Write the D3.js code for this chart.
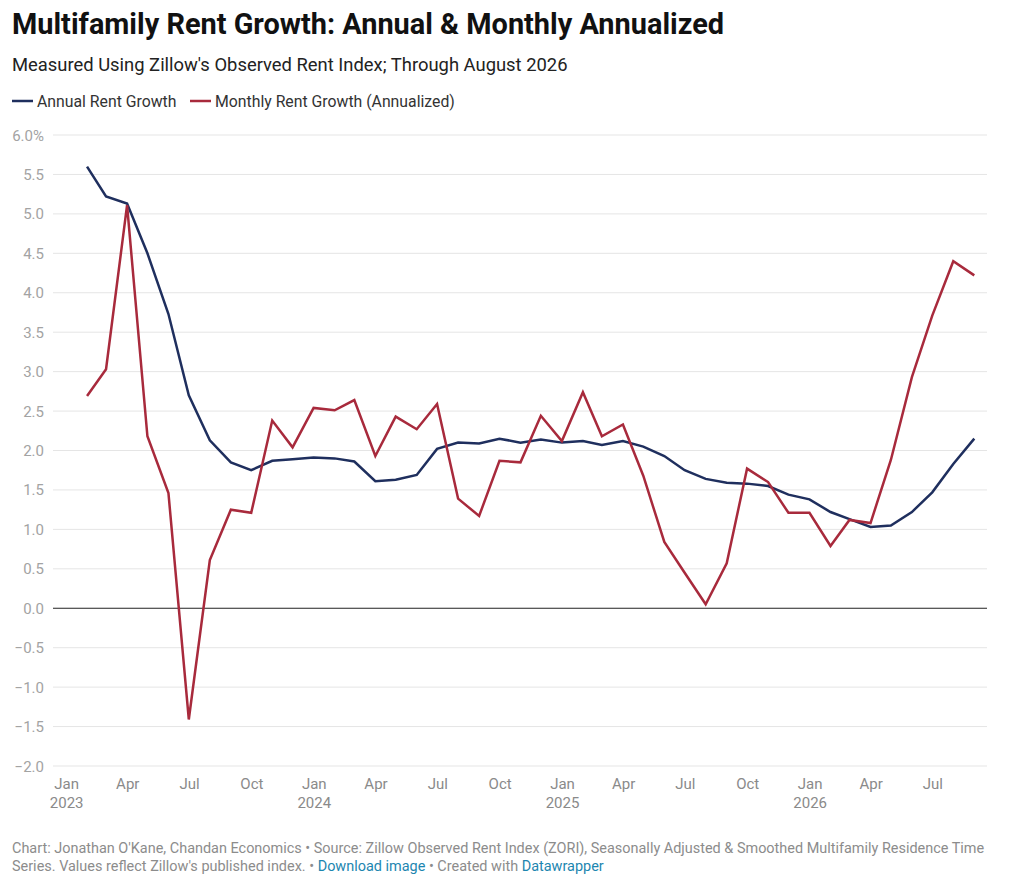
<!DOCTYPE html>
<html>
<head>
<meta charset="utf-8">
<script src="https://cdn.jsdelivr.net/npm/d3@7"></script>
<style>
  body { margin: 0; background: #fff; }
  svg { display: block; font-family: Roboto, "Noto Sans", sans-serif; }
</style>
</head>
<body>
<script>
// month-end observations, Jan 2023 .. Aug 2026
const months = d3.timeMonth.range(new Date(2023, 1, 1), new Date(2026, 8, 1 + 30))
    .slice(0, 44)
    .map(d => d3.timeDay.offset(d, -1));

const annualGrowth = [5.60, 5.22, 5.13, 4.50, 3.73, 2.70, 2.13, 1.85, 1.75, 1.87,
    1.89, 1.91, 1.90, 1.86, 1.61, 1.63, 1.69, 2.02, 2.10, 2.09,
    2.15, 2.10, 2.14, 2.10, 2.12, 2.07, 2.12, 2.05, 1.93, 1.75,
    1.64, 1.59, 1.58, 1.55, 1.44, 1.38, 1.22, 1.13, 1.03, 1.05,
    1.22, 1.47, 1.83, 2.15];

const monthlyGrowth = [2.69, 3.03, 5.11, 2.18, 1.46, -1.41, 0.61, 1.25, 1.21, 2.38,
    2.04, 2.54, 2.51, 2.64, 1.93, 2.43, 2.27, 2.59, 1.39, 1.17,
    1.87, 1.85, 2.44, 2.12, 2.74, 2.18, 2.33, 1.68, 0.84, 0.45,
    0.05, 0.57, 1.77, 1.60, 1.21, 1.21, 0.79, 1.12, 1.08, 1.88,
    2.93, 3.71, 4.40, 4.22];

const seriesNames = ["Annual Rent Growth", "Monthly Rent Growth (Annualized)"];
const seriesColors = ["#1f2f5e", "#a82a3c"];
const yTicks = [6.0, 5.5, 5.0, 4.5, 4.0, 3.5, 3.0, 2.5, 2.0, 1.5, 1.0, 0.5, 0.0, -0.5, -1.0, -1.5, -2.0];

const width = 1024, height = 882;
const svg = d3.select("body").append("svg").attr("width", width).attr("height", height);

// header
svg.append("text").attr("x", 12).attr("y", 34)
    .attr("font-size", 28.9).attr("font-weight", 700).attr("fill", "#111")
    .text("Multifamily Rent Growth: Annual & Monthly Annualized");
svg.append("text").attr("x", 12).attr("y", 71)
    .attr("font-size", 18.4).attr("fill", "#222")
    .text("Measured Using Zillow's Observed Rent Index; Through August 2026");

// legend
const legend = svg.append("g").attr("transform", "translate(12,101)");
const legX = [0, 178];
seriesNames.forEach((name, i) => {
    const g = legend.append("g").attr("transform", `translate(${legX[i]},0)`);
    g.append("line").attr("x1", 0).attr("x2", 21).attr("y1", 0).attr("y2", 0)
        .attr("stroke", seriesColors[i]).attr("stroke-width", 2.5);
    g.append("text").attr("x", 25).attr("y", 5.5).attr("font-size", 15.8).attr("fill", "#333").text(name);
});

// scales
const gridLeft = 53, gridRight = 987;
const x = d3.scaleTime()
    .domain([new Date(2023, 0, 1), new Date(2026, 7, 31)])
    .range([66.7, 974.3]);
const y = d3.scaleLinear().domain([-2, 6]).range([766, 135]);

// grid + y labels
const grid = svg.append("g");
grid.selectAll("line").data(yTicks).join("line")
    .attr("x1", gridLeft).attr("x2", gridRight)
    .attr("y1", d => y(d)).attr("y2", d => y(d))
    .attr("stroke", d => d === 0 ? "#222" : "#e5e5e5")
    .attr("stroke-width", d => d === 0 ? 1.2 : 1);
grid.selectAll("text").data(yTicks).join("text")
    .attr("x", 44).attr("y", d => y(d) + 5.5)
    .attr("text-anchor", "end").attr("font-size", 15).attr("fill", "#a3a3a3")
    .text((d, i) => {
        const s = d.toFixed(1).replace("-", "\u2212");
        return i === 0 ? s + "%" : s;
    });

// x axis labels
const xTicks = d3.timeMonth.every(3).range(new Date(2023, 0, 1), new Date(2026, 7, 1));
const xg = svg.append("g");
xTicks.forEach(t => {
    const lab = xg.append("text").attr("x", x(t)).attr("text-anchor", "middle")
        .attr("font-size", 15).attr("fill", "#8a8a8a");
    lab.append("tspan").attr("x", x(t)).attr("y", 789).text(d3.timeFormat("%b")(t));
    if (t.getMonth() === 0) {
        lab.append("tspan").attr("x", x(t)).attr("y", 808).text(t.getFullYear());
    }
});

// lines
const line = d3.line().x((d, i) => x(months[i])).y(d => y(d));
[annualGrowth, monthlyGrowth].forEach((vals, i) => {
    svg.append("path").datum(vals)
        .attr("d", line)
        .attr("fill", "none")
        .attr("stroke", seriesColors[i])
        .attr("stroke-width", 2.5)
        .attr("stroke-linejoin", "miter");
});

// footer
const foot = svg.append("g").attr("font-size", 14.45).attr("fill", "#8c8c8c");
foot.append("text").attr("x", 12).attr("y", 853)
    .text("Chart: Jonathan O'Kane, Chandan Economics \u2022 Source: Zillow Observed Rent Index (ZORI), Seasonally Adjusted & Smoothed Multifamily Residence Time");
const f2 = foot.append("text").attr("x", 12).attr("y", 871);
f2.append("tspan").text("Series. Values reflect Zillow's published index. \u2022 ");
f2.append("tspan").attr("fill", "#1d86b0").text("Download image");
f2.append("tspan").text(" \u2022 Created with ");
f2.append("tspan").attr("fill", "#1d86b0").text("Datawrapper");
</script>
</body>
</html>
